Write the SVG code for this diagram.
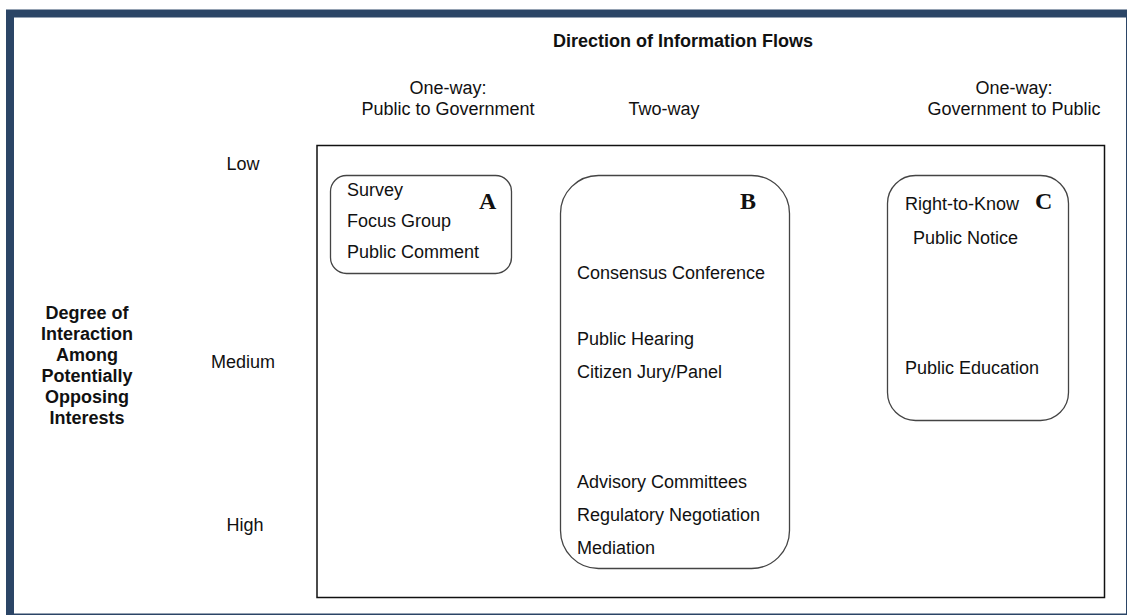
<svg xmlns="http://www.w3.org/2000/svg" width="1128" height="616" viewBox="0 0 1128 616">
  <style>
    .t { font-family: "Liberation Sans", Arial, sans-serif; font-size: 18px; fill: #111; }
    .b { font-weight: bold; }
    .m { text-anchor: middle; }
    .tag { font-family: "Liberation Serif", "Times New Roman", serif; font-size: 24px; font-weight: bold; fill: #111; }
    .box { fill: #fff; stroke: #444; stroke-width: 1.3; }
  </style>
  <!-- page frame -->
  <rect x="0" y="0" width="1128" height="616" fill="#fff"/>
  <rect x="6" y="9.5" width="1121" height="605.5" fill="#2b4566"/>
  <rect x="14" y="17.5" width="1112" height="596" fill="#fff"/>

  <!-- axis headings -->
  <g id="axis-top">
    <text class="t b m" x="683" y="47">Direction of Information Flows</text>
    <text class="t m" x="448" y="94">One-way:</text>
    <text class="t m" x="448" y="115">Public to Government</text>
    <text class="t m" x="664" y="115">Two-way</text>
    <text class="t m" x="1014" y="94">One-way:</text>
    <text class="t m" x="1014" y="115">Government to Public</text>
  </g>
  <g id="axis-left">
    <text class="t b m" x="87" y="319">Degree of</text>
    <text class="t b m" x="87" y="340">Interaction</text>
    <text class="t b m" x="87" y="361">Among</text>
    <text class="t b m" x="87" y="382">Potentially</text>
    <text class="t b m" x="87" y="403">Opposing</text>
    <text class="t b m" x="87" y="424">Interests</text>
    <text class="t m" x="243" y="170">Low</text>
    <text class="t m" x="243" y="368">Medium</text>
    <text class="t m" x="245" y="531">High</text>
  </g>

  <!-- plot area -->
  <rect id="plot" x="317" y="145.5" width="787.5" height="452" fill="none" stroke="#111" stroke-width="1.5"/>

  <g id="node-A">
    <rect class="box" x="330.5" y="175.5" width="181" height="98" rx="16"/>
    <text class="t" x="347" y="196">Survey</text>
    <text class="t" x="347" y="227">Focus Group</text>
    <text class="t" x="347" y="258">Public Comment</text>
    <text class="tag" x="479" y="209">A</text>
  </g>

  <g id="node-B">
    <rect class="box" x="560.5" y="175.5" width="229" height="393" rx="38"/>
    <text class="tag" x="740" y="209">B</text>
    <text class="t" x="577" y="279">Consensus Conference</text>
    <text class="t" x="577" y="345">Public Hearing</text>
    <text class="t" x="577" y="378">Citizen Jury/Panel</text>
    <text class="t" x="577" y="488">Advisory Committees</text>
    <text class="t" x="577" y="521">Regulatory Negotiation</text>
    <text class="t" x="577" y="554">Mediation</text>
  </g>

  <g id="node-C">
    <rect class="box" x="887.5" y="175.5" width="181" height="245" rx="28"/>
    <text class="t" x="905" y="210">Right-to-Know</text>
    <text class="tag" x="1035" y="209">C</text>
    <text class="t" x="913" y="244">Public Notice</text>
    <text class="t" x="905" y="374">Public Education</text>
  </g>

  <g id="connectors"></g>
</svg>
